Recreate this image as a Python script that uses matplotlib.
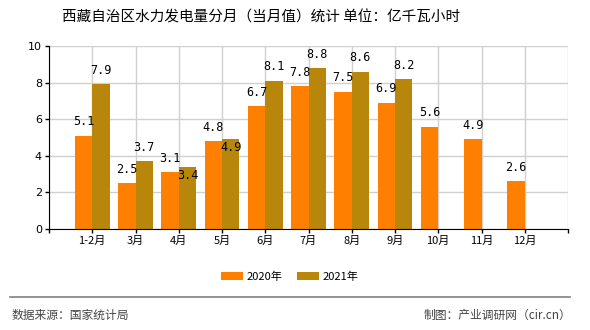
import matplotlib.pyplot as plt
import numpy as np

plt.rcParams['font.family'] = ['Noto Sans CJK SC', 'DejaVu Sans']

months = ['1-2月', '3月', '4月', '5月', '6月', '7月', '8月', '9月', '10月', '11月', '12月']
vals_2020 = [5.1, 2.5, 3.1, 4.8, 6.7, 7.8, 7.5, 6.9, 5.6, 4.9, 2.6]
vals_2021 = [7.9, 3.7, 3.4, 4.9, 8.1, 8.8, 8.6, 8.2]

c2020 = '#FF8000'
c2021 = '#B8860B'

fig = plt.figure(figsize=(5.9, 3.3), dpi=100)
ax = fig.add_axes([49 / 590, 1 - 229 / 330, 519 / 590, 183 / 330])

x = np.arange(1, len(months) + 1)
w = 0.4
x21 = x[:len(vals_2021)]
ax.bar(x - w / 2, vals_2020, w, color=c2020, label='2020年', zorder=2)
ax.bar(x21 + w / 2, vals_2021, w, color=c2021, label='2021年', zorder=2)

lab_font = dict(family='DejaVu Sans Mono', fontsize=8.5, ha='center', va='center', zorder=4)
for xi, v in zip(x, vals_2020):
    ax.annotate(f'{v}', (xi - w / 2, v), xytext=(0, 10), textcoords='offset points', **lab_font)
for i, (xi, v) in enumerate(zip(x21, vals_2021)):
    # labels that would collide with the 2020 label are pushed into the bar
    dy = -6 if i in (2, 3) else 10
    ax.annotate(f'{v}', (xi + w / 2, v), xytext=(0, dy), textcoords='offset points', **lab_font)

ax.set_xlim(0, 12)
ax.set_ylim(0, 10)
ax.set_xticks(np.arange(0, 13))
ax.set_xticklabels([''] + months + [''], fontsize=8)
ax.set_yticks(np.arange(0, 11, 2))
ax.set_yticklabels([str(t) for t in range(0, 11, 2)], family='DejaVu Sans', fontsize=8)
ax.tick_params(length=3, width=1, color='black', pad=2)
ax.grid(True, color='#d0d0d0', linewidth=1, zorder=0)
for s in ('top', 'right'):
    ax.spines[s].set_visible(False)
ax.spines['left'].set_color('black')
ax.spines['bottom'].set_color('black')

fig.text(261 / 590, 1 - 17 / 330, '西藏自治区水力发电量分月（当月值）统计 单位：亿千瓦小时',
         ha='center', va='center', fontsize=10.5)

fig.legend(loc='center', bbox_to_anchor=(290 / 590, 1 - 277 / 330), ncol=2, frameon=False,
           fontsize=8, handlelength=1.95, handleheight=0.7, handletextpad=0.35, columnspacing=1.3)

fig.add_artist(plt.Line2D([10 / 590, 570 / 590], [1 - 297 / 330] * 2, color='#808080', linewidth=1.2))
fig.text(12 / 590, 1 - 315 / 330, '数据来源：国家统计局', ha='left', va='center', fontsize=8.5, color='#444444')
fig.text(571 / 590, 1 - 315 / 330, '制图：产业调研网（cir.cn）', ha='right', va='center', fontsize=8.5, color='#444444')

fig.savefig('out.png', dpi=100)
